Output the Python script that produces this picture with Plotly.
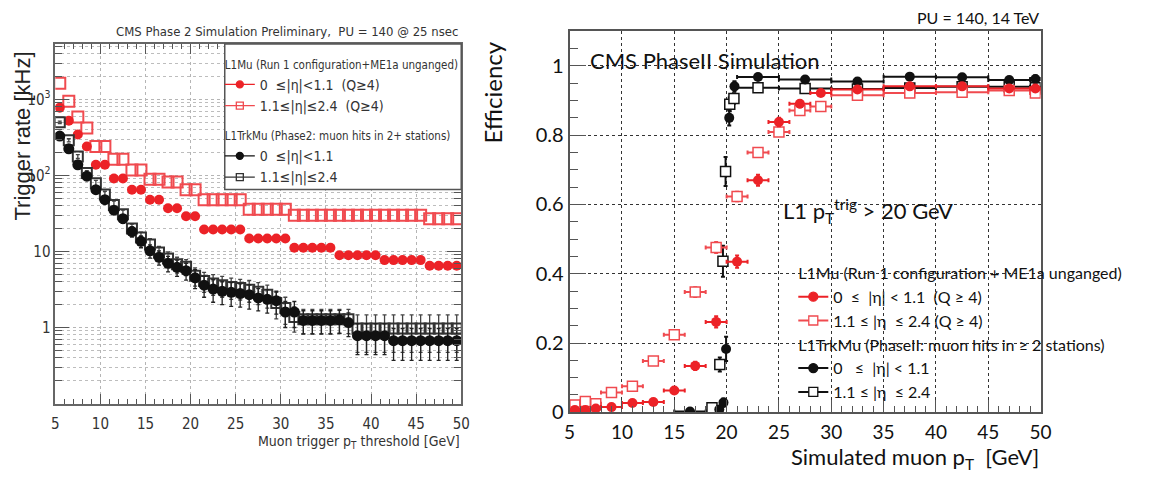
import plotly.graph_objects as go

# ---------------- Left panel: trigger rate vs threshold ----------------
thr = [5.5, 6.5, 7.5, 8.5, 9.5, 10.5, 11.5, 12.5, 13.5, 14.5,
       15.5, 16.5, 17.5, 18.5, 19.5, 20.5, 21.5, 22.5, 23.5, 24.5,
       25.5, 26.5, 27.5, 28.5, 29.5, 30.5, 31.5, 32.5, 33.5, 34.5,
       35.5, 36.5, 37.5, 38.5, 39.5, 40.5, 41.5, 42.5, 43.5, 44.5,
       45.5, 46.5, 47.5, 48.5, 49.5]

rate_mu_barrel = [780, 525, 345, 240, 138, 138, 91, 91, 65, 65,
                  48, 48, 37, 37, 29, 29, 19.5, 19.5, 19.5, 19.5,
                  19.5, 14.8, 14.8, 14.8, 14.8, 14.8, 11.2, 11.2, 11.2, 11.2,
                  11.2, 8.9, 8.9, 8.9, 8.9, 8.9, 7.7, 7.7, 7.7, 7.7,
                  7.7, 6.5, 6.5, 6.5, 6.5]

rate_mu_endcap = [1630, 950, 590, 420, 240, 240, 164, 164, 118, 118,
                  89, 89, 82, 82, 65, 65, 48, 48, 48, 48,
                  48, 36, 36, 36, 36, 36, 30, 30, 30, 30,
                  30, 30, 30, 30, 30, 30, 30, 30, 30, 30,
                  30, 27, 27, 27, 27]

rate_trk_barrel = [330, 224, 138, 98, 65, 48, 35, 27, 18.3, 13.6,
                   10.2, 8.4, 7.0, 6.2, 5.6, 4.5, 3.6, 3.2, 3.0, 2.9,
                   2.8, 2.7, 2.45, 2.35, 2.25, 1.6, 1.6, 1.24, 1.24, 1.24,
                   1.24, 1.26, 1.16, 0.78, 0.78, 0.78, 0.78, 0.67, 0.67, 0.67,
                   0.67, 0.67, 0.67, 0.67, 0.67]
rate_trk_barrel_err = [15, 12, 9, 8, 6, 5, 4, 3.6, 2.8, 2.4,
                       2.0, 1.8, 1.6, 1.5, 1.4, 1.25, 1.1, 1.05, 1.0, 1.0,
                       0.95, 0.95, 0.8, 0.8, 0.75, 0.6, 0.6, 0.42, 0.42, 0.42,
                       0.42, 0.42, 0.4, 0.34, 0.34, 0.34, 0.34, 0.3, 0.3, 0.3,
                       0.3, 0.3, 0.3, 0.3, 0.3]

rate_trk_endcap = [500, 290, 178, 108, 79, 56, 41, 31, 20, 15.3,
                   12.4, 9.7, 8.1, 6.8, 6.3, 4.8, 4.1, 3.8, 3.6, 3.4,
                   3.3, 3.15, 2.95, 2.7, 2.1, 1.8, 1.37, 1.28, 1.28, 1.28,
                   1.28, 1.28, 1.28, 0.97, 0.97, 0.97, 0.97, 0.97, 0.97, 0.97,
                   0.97, 0.97, 0.97, 0.97, 0.97]
rate_trk_endcap_err = [18, 14, 10, 8, 7, 6, 5, 4, 3, 2.6,
                       2.3, 2.0, 1.8, 1.6, 1.5, 1.3, 1.2, 1.15, 1.1, 1.05,
                       1.0, 1.0, 0.95, 0.9, 0.8, 0.7, 0.5, 0.45, 0.45, 0.45,
                       0.45, 0.45, 0.45, 0.5, 0.5, 0.5, 0.5, 0.5, 0.5, 0.5,
                       0.5, 0.5, 0.5, 0.5, 0.5]

rate_xticks = [5, 10, 15, 20, 25, 30, 35, 40, 45, 50]
rate_yticks = [1, 10, 100, 1000]
rate_yticktext = ["1", "10", "10<sup>2</sup>", "10<sup>3</sup>"]
rate_minor = [0.2, 0.3, 0.4, 0.5, 0.6, 0.7, 0.8, 0.9,
              2, 3, 4, 5, 6, 7, 8, 9,
              20, 30, 40, 50, 60, 70, 80, 90,
              200, 300, 400, 500, 600, 700, 800, 900,
              2000, 3000, 4000, 5000]

# ---------------- Right panel: efficiency vs simulated pT ----------------
mu_x = [5.5, 6.5, 7.5, 9, 11, 13, 15, 17, 19, 21,
        23, 25, 27, 29, 32.5, 37.5, 42.5, 47, 49.5]
mu_xerr = [0.5, 0.5, 0.5, 1, 1, 1, 1, 1, 1, 1,
           1, 1, 1, 1, 2.5, 2.5, 2.5, 2, 0.5]
eff_mu_barrel = [0.007, 0.007, 0.011, 0.015, 0.027, 0.03, 0.063, 0.134, 0.261, 0.435,
                 0.67, 0.838, 0.891, 0.922, 0.932, 0.941, 0.941, 0.935, 0.935]
eff_mu_barrel_err = [0.003, 0.003, 0.004, 0.005, 0.006, 0.006, 0.008, 0.012, 0.016, 0.018,
                     0.016, 0.012, 0.01, 0.008, 0.005, 0.005, 0.005, 0.006, 0.008]
eff_mu_endcap = [0.021, 0.031, 0.025, 0.057, 0.075, 0.148, 0.224, 0.347, 0.476, 0.623,
                 0.75, 0.809, 0.871, 0.883, 0.915, 0.922, 0.924, 0.929, 0.922]
eff_mu_endcap_err = [0.005, 0.006, 0.005, 0.007, 0.008, 0.01, 0.012, 0.014, 0.016, 0.014,
                     0.012, 0.01, 0.008, 0.008, 0.005, 0.005, 0.005, 0.006, 0.008]

trk_b_x = [16.5, 19.3, 19.7, 19.95, 20.25, 20.75, 23, 27.5, 32.5, 37.5, 42.5, 47, 49.5]
trk_b_xerr = [1.5, 0, 0, 0, 0, 0, 2, 2.5, 2.5, 2.5, 2.5, 2, 0.5]
eff_trk_barrel = [0.002, 0.008, 0.028, 0.183, 0.85, 0.941, 0.968, 0.961, 0.955, 0.969, 0.967, 0.959, 0.962]
eff_trk_barrel_err = [0.003, 0.006, 0.012, 0.035, 0.022, 0.015, 0.006, 0.006, 0.006, 0.006, 0.006, 0.008, 0.01]

trk_e_x = [18.6, 19.35, 19.65, 19.9, 20.3, 20.7, 23, 27.5, 32.5, 37.5, 42.5, 47, 49.5]
trk_e_xerr = [0, 0, 0, 0, 0, 0, 2, 2.5, 2.5, 2.5, 2.5, 2, 0.5]
eff_trk_endcap = [0.013, 0.138, 0.436, 0.695, 0.889, 0.906, 0.937, 0.935, 0.933, 0.936, 0.94, 0.94, 0.937]
eff_trk_endcap_err = [0.005, 0.02, 0.045, 0.042, 0.02, 0.015, 0.005, 0.005, 0.005, 0.005, 0.005, 0.007, 0.01]

eff_xticks = [5, 10, 15, 20, 25, 30, 35, 40, 45, 50]
eff_yticks = [0, 0.2, 0.4, 0.6, 0.8, 1.0]
eff_yticktext = ["0", "0.2", "0.4", "0.6", "0.8", "1"]

# ---------------- styling ----------------
W, H = 1160, 479
LFONT = "Liberation Sans Narrow, DejaVu Sans Condensed, Arial Narrow, sans-serif"
HFONT = "Liberation Sans, Arial, sans-serif"
RFONT = "Lato, Open Sans, sans-serif"
RED = "#ec2227"
RED_OPEN = "#f04a4f"
BLK = "#111111"
LTXT = "#333333"


def px(x):
    return x / W


def py(y):
    return 1 - y / H


fig = go.Figure()

# ----- left panel data traces -----
fig.add_trace(go.Scatter(x=thr, y=rate_mu_endcap, mode="markers", xaxis="x", yaxis="y",
                         marker=dict(symbol="square-open", size=11, color=RED_OPEN, line=dict(width=2, color=RED_OPEN)),
                         showlegend=False))
fig.add_trace(go.Scatter(x=thr, y=rate_mu_barrel, mode="markers", xaxis="x", yaxis="y",
                         marker=dict(symbol="circle", size=10, color=RED, line=dict(width=0)),
                         showlegend=False))
fig.add_trace(go.Scatter(x=thr, y=rate_trk_endcap, mode="markers", xaxis="x", yaxis="y",
                         error_y=dict(type="data", array=rate_trk_endcap_err, color="#444", thickness=1.3, width=2),
                         marker=dict(symbol="square-open", size=10, color="#333", line=dict(width=2, color="#333")),
                         showlegend=False))
fig.add_trace(go.Scatter(x=thr, y=rate_trk_barrel, mode="markers", xaxis="x", yaxis="y",
                         error_y=dict(type="data", array=rate_trk_barrel_err, color="#222", thickness=1.3, width=2),
                         marker=dict(symbol="circle", size=11, color=BLK, line=dict(width=0)),
                         showlegend=False))

# ----- right panel data traces -----
fig.add_trace(go.Scatter(x=trk_e_x, y=eff_trk_endcap, mode="markers", xaxis="x2", yaxis="y2",
                         error_x=dict(type="data", array=trk_e_xerr, color=BLK, thickness=2, width=2),
                         error_y=dict(type="data", array=eff_trk_endcap_err, color=BLK, thickness=2, width=2),
                         marker=dict(symbol="square", size=10, color="white", line=dict(width=1.5, color=BLK)),
                         showlegend=False))
fig.add_trace(go.Scatter(x=trk_b_x, y=eff_trk_barrel, mode="markers", xaxis="x2", yaxis="y2",
                         error_x=dict(type="data", array=trk_b_xerr, color=BLK, thickness=2, width=2),
                         error_y=dict(type="data", array=eff_trk_barrel_err, color=BLK, thickness=2, width=2),
                         marker=dict(symbol="circle", size=10, color=BLK, line=dict(width=0)),
                         showlegend=False))
fig.add_trace(go.Scatter(x=mu_x, y=eff_mu_endcap, mode="markers", xaxis="x2", yaxis="y2",
                         error_x=dict(type="data", array=mu_xerr, color=RED_OPEN, thickness=2, width=2),
                         error_y=dict(type="data", array=eff_mu_endcap_err, color=RED_OPEN, thickness=2, width=2),
                         marker=dict(symbol="square", size=10, color="white", line=dict(width=1.5, color=RED_OPEN)),
                         showlegend=False))
fig.add_trace(go.Scatter(x=mu_x, y=eff_mu_barrel, mode="markers", xaxis="x2", yaxis="y2",
                         error_x=dict(type="data", array=mu_xerr, color=RED, thickness=2, width=2),
                         error_y=dict(type="data", array=eff_mu_barrel_err, color=RED, thickness=2, width=2),
                         marker=dict(symbol="circle", size=10, color=RED, line=dict(width=0)),
                         showlegend=False))

# ----- legend entries (no data drawn) -----
left_entries = [
    ("0 \u00a0≤|η|<1.1 \u00a0(Q≥4)", "circle", RED, "lmu", "L1Mu (Run 1 configuration+ME1a unganged)"),
    ("1.1≤|η|≤2.4 \u00a0(Q≥4)", "square-open", RED_OPEN, "lmu", None),
    ("0 \u00a0≤|η|<1.1", "circle", BLK, "ltrk", "L1TrkMu (Phase2: muon hits in 2+ stations)"),
    ("1.1≤|η|≤2.4", "square-open", "#333", "ltrk", None),
]
for name, sym, col, grp, title in left_entries:
    fig.add_trace(go.Scatter(
        x=[None], y=[None], mode="lines+markers", xaxis="x", yaxis="y", name=name,
        legend="legend", legendgroup=grp,
        legendgrouptitle=dict(text=title) if title else None,
        marker=dict(symbol=sym, size=7, color=col, line=dict(width=1.3, color=col)),
        line=dict(color=col, width=1.2)))

right_entries = [
    ("0 \u00a0≤ \u00a0|η| < 1.1 \u00a0(Q ≥ 4)", "circle", RED, "white", "rmu", "L1Mu (Run 1 configuration + ME1a unganged)"),
    ("1.1 ≤ |η \u00a0≤ 2.4 (Q ≥ 4)", "square", RED_OPEN, "white", "rmu", None),
    ("0 \u00a0 ≤ \u00a0|η| < 1.1", "circle", BLK, "white", "rtrk", "L1TrkMu (PhaseII: muon hits in ≥ 2 stations)"),
    ("1.1 ≤ |η \u00a0≤ 2.4", "square", BLK, "white", "rtrk", None),
]
for name, sym, col, fill, grp, title in right_entries:
    fig.add_trace(go.Scatter(
        x=[None], y=[None], mode="lines+markers", xaxis="x2", yaxis="y2", name=name,
        legend="legend2", legendgroup=grp,
        legendgrouptitle=dict(text=title) if title else None,
        marker=dict(symbol=sym, size=9, color=col if sym == "circle" else fill,
                    line=dict(width=1.3, color=col)),
        line=dict(color=col, width=2)))

axis_l = dict(showline=True, linecolor="#666", linewidth=1.5, mirror="allticks",
              ticks="inside", tickcolor="#555", zeroline=False,
              tickfont=dict(family=LFONT, size=15, color=LTXT),
              showgrid=True, gridcolor="#b5b5b5", griddash="dot", gridwidth=1)

fig.update_layout(
    width=W, height=H, margin=dict(l=0, r=0, t=0, b=0),
    paper_bgcolor="white", plot_bgcolor="white",
    xaxis=dict(axis_l, domain=[px(50), px(462)], range=[5, 50], anchor="y",
               tickvals=rate_xticks, ticklen=10, tickwidth=1.2, ticklabelstandoff=6,
               minor=dict(dtick=1, tick0=5, ticklen=5, ticks="inside", tickcolor="#555", showgrid=False)),
    yaxis=dict(axis_l, domain=[py(413), py(45)], type="log", range=[-1, 3.73], anchor="x",
               tickvals=rate_yticks, ticktext=rate_yticktext, ticklen=14, tickwidth=1.2,
               minor=dict(tickmode="array", tickvals=rate_minor, ticklen=7, ticks="inside",
                          tickcolor="#555", showgrid=True, gridcolor="#bdbdbd", griddash="dot", gridwidth=1)),
    xaxis2=dict(domain=[px(572), px(1050)], range=[5, 50], anchor="y2",
                showline=True, linecolor="#555", linewidth=2, mirror=True, zeroline=False,
                tickvals=eff_xticks, ticks="inside", ticklen=12, tickwidth=1.3, tickcolor="#555",
                tickfont=dict(family=RFONT, size=19, color="#111"), ticklabelstandoff=2,
                showgrid=True, gridcolor="#333", griddash="dot", gridwidth=1,
                minor=dict(dtick=1, tick0=5, ticklen=6, ticks="inside", tickcolor="#555", showgrid=False)),
    yaxis2=dict(domain=[py(422), py(32)], range=[0, 1.1], anchor="x2",
                showline=True, linecolor="#555", linewidth=2, mirror=True, zeroline=False,
                tickvals=eff_yticks, ticktext=eff_yticktext, ticks="inside", ticklen=16, tickwidth=1.3,
                tickcolor="#555", tickfont=dict(family=RFONT, size=20, color="#111"),
                showgrid=True, gridcolor="#333", griddash="dot", gridwidth=1,
                minor=dict(dtick=0.05, tick0=0, ticklen=8, ticks="inside", tickcolor="#555", showgrid=False)),
    legend=dict(x=px(217), y=py(51), xanchor="left", yanchor="top",
                bgcolor="rgba(0,0,0,0)", borderwidth=0,
                font=dict(family=LFONT, size=14, color=LTXT),
                grouptitlefont=dict(family=LFONT, size=11.5, color=LTXT),
                traceorder="grouped", tracegroupgap=10, itemwidth=30),
    legend2=dict(x=px(799), y=py(262), xanchor="left", yanchor="top",
                 bgcolor="rgba(0,0,0,0)", borderwidth=0,
                 font=dict(family=RFONT, size=16, color="#111"),
                 grouptitlefont=dict(family=RFONT, size=16, color="#111"),
                 traceorder="grouped", tracegroupgap=0, itemwidth=30),
    shapes=[dict(type="rect", xref="paper", yref="paper", layer="above",
                 x0=px(222), x1=px(462), y0=py(194), y1=py(45),
                 line=dict(color="#555", width=1.5), fillcolor="white")],
)

ann = [
    dict(text="CMS Phase 2 Simulation Preliminary, \u00a0PU = 140 @ 25 nsec", x=px(461), y=py(32),
         xanchor="right", yanchor="middle", font=dict(family=LFONT, size=13, color=LTXT)),
    dict(text="Trigger rate [kHz]", x=px(17), y=py(139), textangle=-90,
         xanchor="center", yanchor="middle", font=dict(family=HFONT, size=22, color="#222")),
    dict(text="Muon trigger p<sub>T</sub> threshold [GeV]", x=px(463), y=py(452),
         xanchor="right", yanchor="middle", font=dict(family=LFONT, size=14, color=LTXT)),
    dict(text="PU = 140, 14 TeV", x=px(1050), y=py(18),
         xanchor="right", yanchor="middle", font=dict(family=RFONT, size=16, color="#111")),
    dict(text="CMS PhaseII Simulation", x=px(591), y=py(62),
         xanchor="left", yanchor="middle", font=dict(family=RFONT, size=22, color="#111")),
    dict(text="L1 p<sub>T</sub><sup>trig</sup> > 20 GeV", x=px(787), y=py(216),
         xanchor="left", yanchor="middle", font=dict(family=RFONT, size=22, color="#111")),
    dict(text="Efficiency", x=px(494), y=py(95), textangle=-90,
         xanchor="center", yanchor="middle", font=dict(family=RFONT, size=24, color="#111")),
    dict(text="Simulated muon p<sub>T</sub> \u00a0[GeV]", x=px(1050), y=py(469),
         xanchor="right", yanchor="middle", font=dict(family=RFONT, size=22, color="#111")),
]
for a in ann:
    a.update(xref="paper", yref="paper", showarrow=False)
fig.update_layout(annotations=ann)

fig.write_html("out.html")
